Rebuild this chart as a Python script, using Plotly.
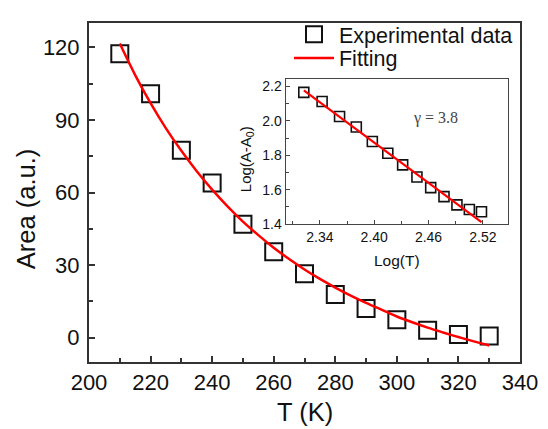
import plotly.graph_objects as go

# Main data
T = [210, 220, 230, 240, 250, 260, 270, 280, 290, 300, 310, 320, 330]
area = [117.3, 100.8, 77.4, 63.9, 46.9, 35.5, 26.4, 17.9, 12.1, 7.4, 3.1, 1.4, 0.7]

# Fitting curve
T_fit = [210, 215, 220, 225, 230, 235, 240, 245, 250, 255, 260, 265, 270, 275, 280,
         285, 290, 295, 300, 305, 310, 315, 320, 325, 330]
area_fit = [121.5, 108.5, 96.9, 86.5, 77.2, 68.8, 61.2, 54.3, 48.0, 42.4, 37.2, 32.5,
            28.2, 24.3, 20.7, 17.4, 14.4, 11.6, 8.8, 6.4, 4.2, 2.2, 0.3, -1.5, -3.2]

# Inset data
logT = [2.3222, 2.3424, 2.3617, 2.3802, 2.3979, 2.4150, 2.4314, 2.4472, 2.4624,
        2.4771, 2.4914, 2.5051, 2.5185]
logA = [2.165, 2.112, 2.025, 1.964, 1.880, 1.812, 1.744, 1.674, 1.612, 1.560, 1.512,
        1.485, 1.472]
logT_fit = [2.3222, 2.5185]
logA_fit = [2.176, 1.412]

FONT = "Liberation Sans, Arial, sans-serif"
INK = "#111111"

fig = go.Figure()
fig.add_trace(go.Scatter(
    x=T, y=area, mode="markers", name="Experimental data", legend="legend",
    marker=dict(symbol="square-open", size=17, color="#111111", line=dict(width=2)),
    xaxis="x", yaxis="y"))
fig.add_trace(go.Scatter(
    x=T_fit, y=area_fit, mode="lines", name="Fitting", legend="legend2",
    line_shape="spline", line=dict(color="#ff0000", width=2.5), xaxis="x", yaxis="y"))
fig.add_trace(go.Scatter(
    x=logT, y=logA, mode="markers", showlegend=False,
    marker=dict(symbol="square-open", size=10, color="#111111", line=dict(width=1.6)),
    xaxis="x2", yaxis="y2"))
fig.add_trace(go.Scatter(
    x=logT_fit, y=logA_fit, mode="lines", showlegend=False,
    line=dict(color="#ff0000", width=2.2), xaxis="x2", yaxis="y2"))

axis_common = dict(showgrid=False, zeroline=False, showline=True, mirror=True,
                   ticks="inside")

legend_common = dict(xanchor="left", yanchor="middle", bgcolor="rgba(0,0,0,0)",
                     font=dict(size=21.5, family=FONT, color=INK), itemwidth=40)

fig.update_layout(
    width=540, height=421,
    margin=dict(l=81, r=28, t=6, b=67),
    paper_bgcolor="white", plot_bgcolor="white",
    font=dict(family=FONT, color=INK),
    xaxis=dict(domain=[0, 1], range=[200, 340], dtick=20, tick0=200,
               linecolor="#333333", linewidth=2, ticklen=6, tickwidth=1.5,
               tickcolor="#333333", tickfont=dict(size=22, family=FONT, color=INK),
               minor=dict(dtick=10, ticks="inside", ticklen=4, tickcolor="#333333"),
               **axis_common),
    yaxis=dict(domain=[0, 1], range=[-10, 130], dtick=30, tick0=0,
               linecolor="#333333", linewidth=2, ticklen=6, tickwidth=1.5,
               tickcolor="#333333", tickfont=dict(size=22, family=FONT, color=INK),
               ticklabelstandoff=3,
               minor=dict(dtick=15, ticks="inside", ticklen=4, tickcolor="#333333"),
               **axis_common),
    xaxis2=dict(domain=[0.456, 0.9715], anchor="y2", range=[2.302, 2.5475],
                tickvals=[2.34, 2.40, 2.46, 2.52], ticktext=["2.34", "2.40", "2.46", "2.52"],
                linecolor="#444444", linewidth=1, ticklen=4, tickcolor="#444444",
                tickfont=dict(size=14, family=FONT, color=INK),
                minor=dict(tickvals=[2.31, 2.37, 2.43, 2.49], ticks="inside", ticklen=3,
                           tickcolor="#444444"),
                **axis_common),
    yaxis2=dict(domain=[0.4066, 0.836], anchor="x2", range=[1.4, 2.245], dtick=0.2,
                tick0=1.4, tickformat=".1f",
                linecolor="#444444", linewidth=1, ticklen=4, tickcolor="#444444",
                tickfont=dict(size=14, family=FONT, color=INK),
                minor=dict(dtick=0.1, ticks="inside", ticklen=3, tickcolor="#444444"),
                **axis_common),
    legend=dict(x=0.464, y=0.967, **legend_common),
    legend2=dict(x=0.464, y=0.897, **legend_common),
    annotations=[
        dict(text="Area (a.u.)", xref="paper", yref="paper", x=-0.146, y=0.451,
             xanchor="center", yanchor="middle",
             textangle=-90, showarrow=False, font=dict(size=25.5, family=FONT, color=INK)),
        dict(text="T (K)", xref="paper", yref="paper", x=0.5, y=-0.1466,
             xanchor="center", yanchor="middle",
             showarrow=False, font=dict(size=25.5, family=FONT, color=INK)),
        dict(text="Log(T)", xref="paper", yref="paper", x=0.714, y=0.298,
             xanchor="center", yanchor="middle",
             showarrow=False, font=dict(size=15.5, family=FONT, color=INK)),
        dict(text="Log(A-A<sub>0</sub>)", xref="paper", yref="paper", x=0.364, y=0.598,
             xanchor="center", yanchor="middle",
             textangle=-90, showarrow=False, font=dict(size=15, family=FONT, color=INK)),
        dict(text="γ = 3.8", xref="x2", yref="y2", x=2.4674, y=2.016,
             xanchor="center", yanchor="middle",
             showarrow=False, font=dict(size=16, family="Liberation Serif, Times New Roman, serif",
                                        color="#444444")),
    ],
)

fig.write_html("out.html")
